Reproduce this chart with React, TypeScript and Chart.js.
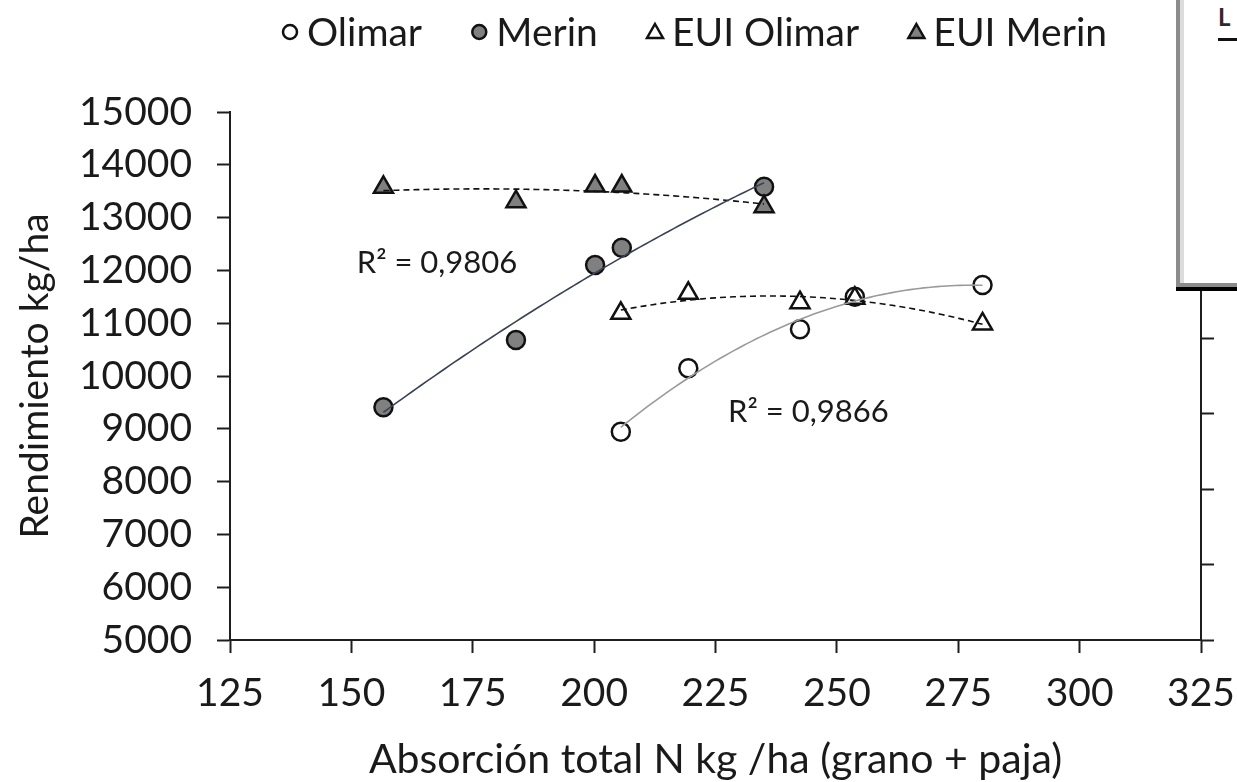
import React, { useEffect, useRef } from 'react';
import { Chart, registerables } from 'chart.js';

Chart.register(...registerables);

// ---- Data ----
const olimarN = [205.5, 219.4, 242.4, 253.7, 280.0];
const olimarYield = [8945, 10146, 10884, 11502, 11723];
const euiOlimar = [11188, 11566, 11388, 11472, 10985];

const merinN = [156.6, 183.9, 200.2, 205.7, 235.0];
const merinYield = [9407, 10682, 12102, 12430, 13585];
const euiMerin = [13574, 13301, 13598, 13598, 13206];

const legendLabels = ['Olimar', 'Merin', 'EUI Olimar', 'EUI Merin'];
const r2Texts = ['R\u00B2 = 0,9806', 'R\u00B2 = 0,9866'];
const r2AnchorN = [151.1, 227.6];
const r2AnchorYield = [12140, 9309];

const xMin = 125;
const xMax = 325;
const xStep = 25;
const yMin = 5000;
const yMax = 15000;
const yStep = 1000;

const xTitle = 'Absorción total N kg /ha (grano + paja)';
const yTitle = 'Rendimiento kg/ha';

const FONT = 'Lato';
const TEXT = '#1a1a1a';
const AXIS = '#1e1e1e';
const GRAY_FILL = '#808080';

// quadratic least-squares trend (as Excel's polynomial trendline)
function quadFit(xs: number[], ys: number[]) {
  const n = xs.length;
  const mx = xs.reduce((a, b) => a + b, 0) / n;
  let s1 = 0, s2 = 0, s3 = 0, s4 = 0, t0 = 0, t1 = 0, t2 = 0;
  for (let i = 0; i < n; i++) {
    const u = xs[i] - mx;
    const y = ys[i];
    s1 += u; s2 += u * u; s3 += u * u * u; s4 += u * u * u * u;
    t0 += y; t1 += u * y; t2 += u * u * y;
  }
  const s0 = n;
  const det = (m: number[][]) =>
    m[0][0] * (m[1][1] * m[2][2] - m[1][2] * m[2][1]) -
    m[0][1] * (m[1][0] * m[2][2] - m[1][2] * m[2][0]) +
    m[0][2] * (m[1][0] * m[2][1] - m[1][1] * m[2][0]);
  const A = [[s0, s1, s2], [s1, s2, s3], [s2, s3, s4]];
  const B = [t0, t1, t2];
  const D = det(A);
  const col = (k: number) => A.map((row, i) => row.map((v, j) => (j === k ? B[i] : v)));
  const a = det(col(0)) / D;
  const b = det(col(1)) / D;
  const c = det(col(2)) / D;
  return (x: number) => a + b * (x - mx) + c * (x - mx) * (x - mx);
}

function trend(xs: number[], ys: number[], steps = 80) {
  const f = quadFit(xs, ys);
  const lo = Math.min(...xs);
  const hi = Math.max(...xs);
  const pts = [] as { x: number; y: number }[];
  for (let i = 0; i <= steps; i++) {
    const x = lo + ((hi - lo) * i) / steps;
    pts.push({ x, y: f(x) });
  }
  return pts;
}

const pairs = (xs: number[], ys: number[]) => xs.map((x, i) => ({ x, y: ys[i] }));

const legendPlugin = {
  id: 'customLegend',
  afterDraw(chart: any) {
    const ctx = chart.ctx as CanvasRenderingContext2D;
    ctx.save();
    ctx.font = `39px ${FONT}`;
    ctx.textBaseline = 'middle';
    ctx.textAlign = 'left';
    const markerW = 16;
    const gapMT = 9;
    const startX = 282;
    const endX = 1107;
    const cy = 32;
    const widths = legendLabels.map((l) => ctx.measureText(l).width);
    const itemsW = widths.reduce((a, w) => a + markerW + gapMT + w, 0);
    const gap = (endX - startX - itemsW) / (legendLabels.length - 1);
    let x = startX;
    legendLabels.forEach((label, i) => {
      const mx = x + markerW / 2;
      ctx.lineWidth = 2.5;
      ctx.strokeStyle = '#111';
      ctx.fillStyle = i === 1 || i === 3 ? GRAY_FILL : '#fff';
      ctx.beginPath();
      if (i < 2) {
        ctx.arc(mx, cy, 7, 0, Math.PI * 2);
      } else {
        ctx.moveTo(mx, cy - 8);
        ctx.lineTo(mx + 8, cy + 6);
        ctx.lineTo(mx - 8, cy + 6);
        ctx.closePath();
      }
      ctx.fill();
      ctx.stroke();
      ctx.fillStyle = TEXT;
      ctx.fillText(label, x + markerW + gapMT, cy + 1);
      x += markerW + gapMT + widths[i] + gap;
    });
    ctx.restore();
  },
};

const r2Plugin = {
  id: 'r2Labels',
  afterDatasetsDraw(chart: any) {
    const ctx = chart.ctx as CanvasRenderingContext2D;
    const xs = chart.scales.x;
    const ys = chart.scales.y;
    ctx.save();
    ctx.font = `31px ${FONT}`;
    ctx.fillStyle = TEXT;
    ctx.textAlign = 'left';
    ctx.textBaseline = 'middle';
    r2Texts.forEach((t, i) => {
      ctx.fillText(t, xs.getPixelForValue(r2AnchorN[i]), ys.getPixelForValue(r2AnchorYield[i]));
    });
    ctx.restore();
  },
};

export default function App() {
  const canvasRef = useRef<HTMLCanvasElement | null>(null);

  useEffect(() => {
    if (!canvasRef.current) return;
    Chart.defaults.font.family = FONT;

    const chart = new Chart(canvasRef.current, {
      type: 'scatter',
      data: {
        datasets: [
          {
            label: 'Merin trend',
            data: trend(merinN, merinYield),
            showLine: true,
            borderColor: '#3a4354',
            borderWidth: 1.6,
            pointRadius: 0,
            order: 0,
          },
          {
            label: 'Olimar trend',
            data: trend(olimarN, olimarYield),
            showLine: true,
            borderColor: '#9a9a9a',
            borderWidth: 1.6,
            pointRadius: 0,
            order: 0,
          },
          {
            label: 'EUI Merin trend',
            data: trend(merinN, euiMerin),
            showLine: true,
            borderColor: '#111',
            borderWidth: 1.6,
            borderDash: [6, 4],
            pointRadius: 0,
            order: 0,
          },
          {
            label: 'EUI Olimar trend',
            data: trend(olimarN, euiOlimar),
            showLine: true,
            borderColor: '#111',
            borderWidth: 1.6,
            borderDash: [6, 4],
            pointRadius: 0,
            order: 0,
          },
          {
            label: 'EUI Merin',
            data: pairs(merinN, euiMerin),
            pointStyle: 'triangle',
            pointRadius: 11,
            backgroundColor: GRAY_FILL,
            borderColor: '#111',
            borderWidth: 2.5,
            order: 1,
          },
          {
            label: 'EUI Olimar',
            data: pairs(olimarN, euiOlimar),
            pointStyle: 'triangle',
            pointRadius: 11,
            backgroundColor: '#fff',
            borderColor: '#111',
            borderWidth: 2.5,
            order: 2,
          },
          {
            label: 'Merin',
            data: pairs(merinN, merinYield),
            pointStyle: 'circle',
            pointRadius: 9,
            backgroundColor: GRAY_FILL,
            borderColor: '#111',
            borderWidth: 2.5,
            order: 3,
          },
          {
            label: 'Olimar',
            data: pairs(olimarN, olimarYield),
            pointStyle: 'circle',
            pointRadius: 9,
            backgroundColor: '#fff',
            borderColor: '#111',
            borderWidth: 2.5,
            order: 4,
          },
        ],
      },
      options: {
        animation: false,
        responsive: true,
        maintainAspectRatio: false,
        layout: { padding: { top: 112, left: 0, right: 0, bottom: 0 } },
        plugins: {
          legend: { display: false },
          tooltip: { enabled: false },
        },
        scales: {
          x: {
            type: 'linear',
            min: xMin,
            max: xMax,
            ticks: {
              stepSize: xStep,
              font: { family: FONT, size: 39, lineHeight: 2.08 },
              color: TEXT,
              padding: 0,
            },
            grid: {
              drawOnChartArea: false,
              drawTicks: true,
              tickLength: 13,
              tickWidth: 2,
              tickColor: AXIS,
            },
            border: { display: true, color: AXIS, width: 2 },
            title: {
              display: true,
              text: xTitle,
              font: { family: FONT, size: 41, lineHeight: 0.6 },
              color: TEXT,
              padding: { top: 0, bottom: 10 },
            },
            afterFit: (s: any) => {
              s.height = 142;
            },
          },
          y: {
            type: 'linear',
            position: 'left',
            min: yMin,
            max: yMax,
            ticks: {
              stepSize: yStep,
              font: { family: FONT, size: 39 },
              color: TEXT,
              padding: 25,
              callback: (v: any) => String(v),
            },
            grid: {
              drawOnChartArea: false,
              drawTicks: true,
              tickLength: 13,
              tickWidth: 2,
              tickColor: AXIS,
            },
            border: { display: true, color: AXIS, width: 2 },
            title: {
              display: true,
              text: yTitle,
              font: { family: FONT, size: 39 },
              color: TEXT,
              padding: { top: 12, bottom: 0 },
            },
            afterFit: (s: any) => {
              s.width = 230;
            },
          },
          y2: {
            type: 'linear',
            position: 'right',
            min: 0,
            max: 7,
            ticks: { stepSize: 1, display: false },
            grid: {
              drawOnChartArea: false,
              drawTicks: true,
              tickLength: 13,
              tickWidth: 2,
              tickColor: AXIS,
            },
            border: { display: true, color: AXIS, width: 2 },
            afterFit: (s: any) => {
              s.width = 36;
            },
          },
        },
      } as any,
      plugins: [legendPlugin, r2Plugin],
    });
    return () => chart.destroy();
  }, []);

  const abs = (s: React.CSSProperties): React.CSSProperties => ({ position: 'absolute', ...s });

  return (
    <div style={abs({ left: 0, top: 0, width: 1237, height: 782, background: '#fff', overflow: 'hidden' })}>
      <canvas ref={canvasRef} />
      <div style={abs({ left: 1176, top: 0, width: 61, height: 287, background: '#8c8c8c' })} />
      <div style={abs({ left: 1180, top: 0, width: 57, height: 283, background: '#dcdcdc' })} />
      <div style={abs({ left: 1184, top: 0, width: 53, height: 283, background: '#ffffff' })} />
      <div style={abs({ left: 1176, top: 287, width: 61, height: 4, background: '#000' })} />
      <div
        style={abs({
          left: 1218,
          top: 2,
          fontFamily: FONT,
          fontSize: 24,
          fontWeight: 700,
          color: '#2a2a2a',
          lineHeight: '30px',
        })}
      >
        L
      </div>
      <div style={abs({ left: 1218, top: 38, width: 19, height: 3, background: '#111' })} />
    </div>
  );
}
